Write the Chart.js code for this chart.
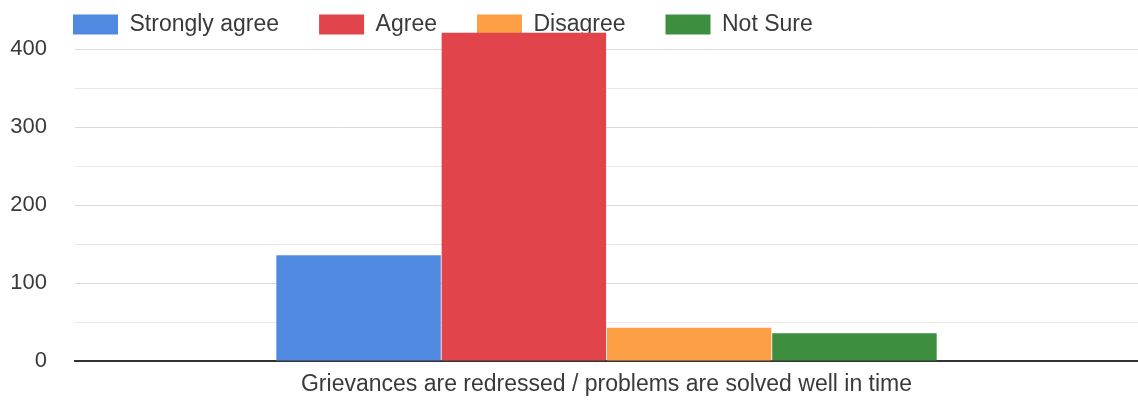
<!DOCTYPE html>
<html>
<head>
<meta charset="utf-8">
<script src="https://cdn.jsdelivr.net/npm/chart.js@4.4.1/dist/chart.umd.min.js"></script>
<style>
  html, body { margin: 0; padding: 0; background: #ffffff; }
  #wrap { width: 1138px; height: 406px; }
</style>
</head>
<body>
<div id="wrap"><canvas id="chart" width="1138" height="406"></canvas></div>
<script>
const categories = ["Grievances are redressed / problems are solved well in time"];
const seriesNames = ["Strongly agree", "Agree", "Disagree", "Not Sure"];
const stronglyAgree = [136];
const agree = [421];
const disagree = [43];
const notSure = [36];
const yTicks = [0, 100, 200, 300, 400];
const yGridValues = [0, 50, 100, 150, 200, 250, 300, 350, 400];

const seriesColors = ["#4f8ae0", "#e1454b", "#fd9f45", "#3e8e3f"];
const textColor = "#3a3a3a";
const fontFamily = "Liberation Sans, Arial, sans-serif";

const datasets = [stronglyAgree, agree, disagree, notSure].map((values, i) => ({
  label: seriesNames[i],
  data: values,
  backgroundColor: seriesColors[i],
  borderWidth: 0,
  clip: false,
  categoryPercentage: 0.622,
  barPercentage: 0.995
}));

// the legend starts in line with the plot, not at the canvas edge
const legendOffset = {
  id: "legendOffset",
  afterLayout(chart) {
    if (chart.legend) chart.legend.left += 33;
  }
};

new Chart(document.getElementById("chart"), {
  type: "bar",
  data: { labels: categories, datasets },
  plugins: [legendOffset],
  options: {
    responsive: false,
    animation: false,
    layout: { padding: { top: -27, right: 0, left: 0, bottom: -1 } },
    scales: {
      x: {
        grid: { display: false, drawTicks: false },
        border: { color: "#333333", width: 2 },
        ticks: {
          color: textColor,
          padding: 9,
          font: { family: fontFamily, size: 23 }
        }
      },
      y: {
        min: 0,
        max: 404,
        border: { display: false },
        afterFit: (scale) => { scale.width = 75; },
        afterBuildTicks: (scale) => {
          scale.ticks = yGridValues.map((value) => ({ value }));
        },
        ticks: {
          padding: 28,
          color: textColor,
          font: { family: fontFamily, size: 22 },
          callback: (value) => (yTicks.includes(value) ? value : "")
        },
        grid: {
          drawTicks: false,
          color: (ctx) => {
            const v = ctx.tick.value;
            if (v === 0) return "#333333";
            return v % 100 === 0 ? "#d9d9d9" : "#e9e9e9";
          },
          lineWidth: (ctx) => (ctx.tick.value === 0 ? 2 : 1)
        }
      }
    },
    plugins: {
      legend: {
        position: "top",
        align: "start",
        labels: {
          boxWidth: 45,
          boxHeight: 20,
          padding: 40,
          color: textColor,
          font: { family: fontFamily, size: 23 }
        }
      },
      tooltip: { enabled: false }
    }
  }
});
</script>
</body>
</html>
